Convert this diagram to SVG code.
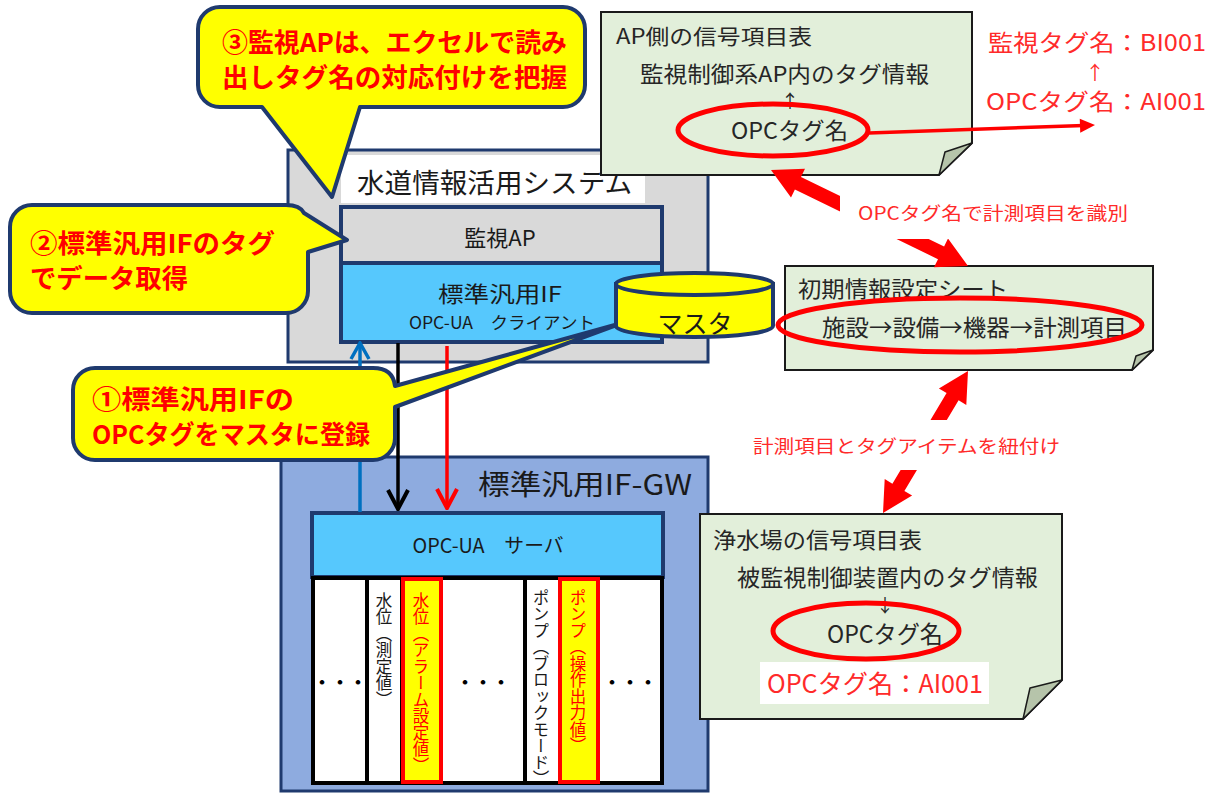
<svg xmlns="http://www.w3.org/2000/svg" width="1220" height="793" viewBox="0 0 1220 793">
<defs>
<style>
text { font-family: "Noto Sans CJK JP", "Noto Sans", sans-serif; }
.box { stroke:#1F3A6E; stroke-width:4; }
.callout { fill:#FFFF00; stroke:#1F3A6E; stroke-width:4; stroke-linejoin:round; }
.ctext { fill:#FF0000; font-size:26px; font-weight:700; }
.note { fill:#E2EFDA; stroke:#1A1A1A; stroke-width:2; }
.flap { fill:#B6C4AA; stroke:#1A1A1A; stroke-width:1.5; stroke-linejoin:round; }
.ntext { fill:#262626; }
.rtext { fill:#FF2A2A; }
.oval { fill:none; stroke:#FF0000; stroke-width:5; }
.vt { writing-mode: vertical-rl; font-size:16.5px; }
.col { fill:#FFFFFF; stroke:#000000; stroke-width:4; }
.ycol { fill:#FFFF00; stroke:#FF0000; stroke-width:4; }
.block { fill:#FF0000; }
.dots { font-size:18px; font-weight:700; fill:#000; }
</style>
<marker id="chevK" viewBox="-22 -12 24 24" refX="0" refY="0" markerWidth="24" markerHeight="24" orient="auto" markerUnits="userSpaceOnUse">
<path d="M -19,-10 L 0,0 L -19,10" fill="none" stroke="#000000" stroke-width="4"/>
</marker>
<marker id="chevR" viewBox="-22 -12 24 24" refX="0" refY="0" markerWidth="24" markerHeight="24" orient="auto" markerUnits="userSpaceOnUse">
<path d="M -19,-10 L 0,0 L -19,10" fill="none" stroke="#FF0000" stroke-width="4"/>
</marker>
<marker id="chevB" viewBox="-20 -12 22 24" refX="0" refY="0" markerWidth="22" markerHeight="24" orient="auto" markerUnits="userSpaceOnUse">
<path d="M -16,-9 L 0,0 L -16,9" fill="none" stroke="#0070C0" stroke-width="3.5"/>
</marker>
<marker id="triR" viewBox="-6 -9 18 18" refX="0" refY="0" markerWidth="18" markerHeight="18" orient="auto" markerUnits="userSpaceOnUse">
<path d="M 11,0 L -4,-7 L -4,7 Z" fill="#FF0000"/>
</marker>
<clipPath id="clip5"><rect x="527" y="579" width="31" height="202"/></clipPath>
</defs>

<rect x="0" y="0" width="1220" height="793" fill="#FFFFFF"/>

<g id="system">
<rect x="288" y="150" width="420" height="212" fill="#D9D9D9" stroke="#1F3A6E" stroke-width="3"/>
<rect x="341" y="155" width="304" height="48" fill="#FFFFFF"/>
<text x="357" y="193" font-size="27" textLength="275" lengthAdjust="spacingAndGlyphs" fill="#1A1A1A">水道情報活用システム</text>
</g>

<g id="kanshi-ap">
<rect class="box" x="341" y="207" width="321" height="56" fill="#D9D9D9"/>
<text x="500" y="246" font-size="22" text-anchor="middle" fill="#1A1A1A">監視AP</text>
</g>

<g id="if-client">
<rect class="box" x="341" y="263" width="321" height="79" fill="#56C8FD"/>
<text x="500" y="302" font-size="22" text-anchor="middle" textLength="124" lengthAdjust="spacingAndGlyphs" fill="#1A1A1A">標準汎用IF</text>
<text x="502" y="329" font-size="17" text-anchor="middle" textLength="186" lengthAdjust="spacingAndGlyphs" fill="#1A1A1A">OPC-UA　クライアント</text>
</g>

<g id="gw">
<rect x="281" y="457" width="427" height="334" fill="#8EABDF" stroke="#1F3A6E" stroke-width="3"/>
<text x="478" y="495" font-size="28" textLength="214" lengthAdjust="spacingAndGlyphs" fill="#1A1A1A">標準汎用IF-GW</text>
</g>

<g id="opcua-server">
<rect class="box" x="312" y="513" width="351" height="64" fill="#56C8FD"/>
<text x="488" y="553" font-size="20" text-anchor="middle" textLength="151" lengthAdjust="spacingAndGlyphs" fill="#1A1A1A">OPC-UA　サーバ</text>
</g>

<g id="tag-columns">
<rect class="col" x="313" y="578" width="349" height="205"/>
<rect class="col" x="367" y="578" width="35" height="205"/>
<rect class="col" x="525" y="578" width="35" height="205"/>
<rect class="ycol" x="403" y="579" width="38" height="203"/>
<rect class="ycol" x="560" y="579" width="38" height="203"/>
<text class="dots" x="340" y="689" text-anchor="middle">・・・</text>
<text class="dots" x="483" y="689" text-anchor="middle">・・・</text>
<text class="dots" x="630" y="689" text-anchor="middle">・・・</text>
<text class="vt" x="384" y="592" fill="#1A1A1A">水位（測定値）</text>
<text class="vt" x="421" y="592" fill="#FF0000">水位（アラーム設定値）</text>
<g clip-path="url(#clip5)"><text class="vt" x="541" y="589" fill="#1A1A1A">ポンプ（ブロックモード）</text></g>
<text class="vt" x="578" y="589" fill="#FF0000">ポンプ（操作出力値）</text>
</g>

<g id="ap-note">
<path class="note" d="M 601,12 H 972 V 143 L 939,175 H 601 Z"/>
<path class="flap" d="M 972,143 L 945,152 L 939,175 Z"/>
<text class="ntext" x="616" y="44" font-size="21" textLength="196" lengthAdjust="spacingAndGlyphs">AP側の信号項目表</text>
<text class="ntext" x="640" y="82" font-size="22" textLength="289" lengthAdjust="spacingAndGlyphs">監視制御系AP内のタグ情報</text>
<text class="ntext" x="790" y="108" font-size="18" text-anchor="middle">↑</text>
<text class="ntext" x="731" y="139" font-size="23" textLength="117" lengthAdjust="spacingAndGlyphs">OPCタグ名</text>
<ellipse class="oval" cx="773" cy="130" rx="95" ry="26"/>
</g>

<g id="tag-mapping-text">
<text class="rtext" x="988" y="51" font-size="23" textLength="218" lengthAdjust="spacingAndGlyphs">監視タグ名：BI001</text>
<text class="rtext" x="1095" y="80" font-size="19" text-anchor="middle">↑</text>
<text class="rtext" x="986" y="110" font-size="23" textLength="220" lengthAdjust="spacingAndGlyphs">OPCタグ名：AI001</text>
</g>

<g id="init-sheet">
<path class="note" d="M 785,266 H 1153 V 350 L 1132,370 H 785 Z"/>
<path class="flap" d="M 1153,350 L 1136,356 L 1132,370 Z"/>
<text class="ntext" x="798" y="297" font-size="22" textLength="210" lengthAdjust="spacingAndGlyphs">初期情報設定シート</text>
<text class="ntext" x="822" y="336" font-size="23" textLength="305" lengthAdjust="spacingAndGlyphs">施設→設備→機器→計測項目</text>
<ellipse class="oval" cx="960" cy="325" rx="182" ry="27"/>
</g>

<g id="plant-note">
<path class="note" d="M 700,514 H 1062 V 680 L 1023,719 H 700 Z"/>
<path class="flap" d="M 1062,680 L 1030,688 L 1023,719 Z"/>
<text class="ntext" x="713" y="548" font-size="22" textLength="209" lengthAdjust="spacingAndGlyphs">浄水場の信号項目表</text>
<text class="ntext" x="737" y="586" font-size="23" textLength="301" lengthAdjust="spacingAndGlyphs">被監視制御装置内のタグ情報</text>
<text class="ntext" x="885" y="612" font-size="18" text-anchor="middle">↓</text>
<text class="ntext" x="827" y="643" font-size="24" textLength="116" lengthAdjust="spacingAndGlyphs">OPCタグ名</text>
<ellipse class="oval" cx="866" cy="631" rx="93" ry="28"/>
<rect x="760" y="662" width="229" height="42" fill="#FFFFFF"/>
<text class="rtext" x="767" y="693" font-size="25" textLength="216" lengthAdjust="spacingAndGlyphs">OPCタグ名：AI001</text>
</g>

<g id="connectors">
<line x1="360" y1="512" x2="360" y2="343" stroke="#0070C0" stroke-width="3.5" marker-end="url(#chevB)"/>
<line x1="398" y1="343" x2="398" y2="509" stroke="#000000" stroke-width="3.5" marker-end="url(#chevK)"/>
<line x1="447" y1="346" x2="447" y2="508" stroke="#FF0000" stroke-width="3.5" marker-end="url(#chevR)"/>
<line x1="869" y1="133" x2="1084" y2="125.5" stroke="#FF0000" stroke-width="3.5" marker-end="url(#triR)"/>
<polygon class="block" points="771,170 791,197.5 794.9,189.4 938,259.2 934,267.3 968,266 948,238.5 944.1,246.6 801,176.9 805,168.8"/>
<polygon class="block" points="968,371 938.9,388.5 946.6,393.1 892.4,483.7 884.7,479 883,513 912.1,495.5 904.4,490.9 958.6,400.3 966.3,405"/>
<rect x="840" y="188" width="305" height="51" fill="#FFFFFF"/>
<text class="rtext" x="858" y="220" font-size="18" textLength="270" lengthAdjust="spacingAndGlyphs">OPCタグ名で計測項目を識別</text>
<rect x="740" y="420" width="335" height="50" fill="#FFFFFF"/>
<text class="rtext" x="753" y="453" font-size="18" textLength="307" lengthAdjust="spacingAndGlyphs">計測項目とタグアイテムを紐付け</text>
</g>

<g id="callout-3">
<path class="callout" d="M 220,7 H 563 A 22 22 0 0 1 585,29 V 85 A 22 22 0 0 1 563,107 H 360 L 332,197 L 262,107 H 220 A 22 22 0 0 1 198,85 V 29 A 22 22 0 0 1 220,7 Z"/>
<text class="ctext" x="222" y="52" textLength="345" lengthAdjust="spacingAndGlyphs">③監視APは、エクセルで読み</text>
<text class="ctext" x="222" y="87" textLength="345" lengthAdjust="spacingAndGlyphs">出しタグ名の対応付けを把握</text>
</g>

<g id="callout-2">
<path class="callout" d="M 32,205 H 286 Q 300,205 304,213 L 347,240 L 308,252 V 291 A 22 22 0 0 1 286,313 H 32 A 22 22 0 0 1 10,291 V 227 A 22 22 0 0 1 32,205 Z"/>
<text class="ctext" x="30" y="253" textLength="245" lengthAdjust="spacingAndGlyphs">②標準汎用IFのタグ</text>
<text class="ctext" x="30" y="288" textLength="158" lengthAdjust="spacingAndGlyphs">でデータ取得</text>
</g>

<g id="callout-1">
<path class="callout" d="M 95,368 H 373 Q 393,368 395,386 L 622,323 L 395,407 V 438 A 22 22 0 0 1 373,460 H 95 A 22 22 0 0 1 73,438 V 390 A 22 22 0 0 1 95,368 Z"/>
<text class="ctext" x="92" y="409" textLength="202" lengthAdjust="spacingAndGlyphs">①標準汎用IFの</text>
<text class="ctext" x="92" y="444" textLength="278" lengthAdjust="spacingAndGlyphs">OPCタグをマスタに登録</text>
</g>

<g id="master-db">
<path d="M 616,284 V 326 A 78.5 11 0 0 0 773,326 V 284 Z" fill="#FFFF00" stroke="#1F3A6E" stroke-width="4"/>
<ellipse cx="694.5" cy="284" rx="78.5" ry="11" fill="#FFFF00" stroke="#1F3A6E" stroke-width="4"/>
<text x="695" y="333" font-size="25" text-anchor="middle" fill="#1A1A1A">マスタ</text>
</g>
</svg>
